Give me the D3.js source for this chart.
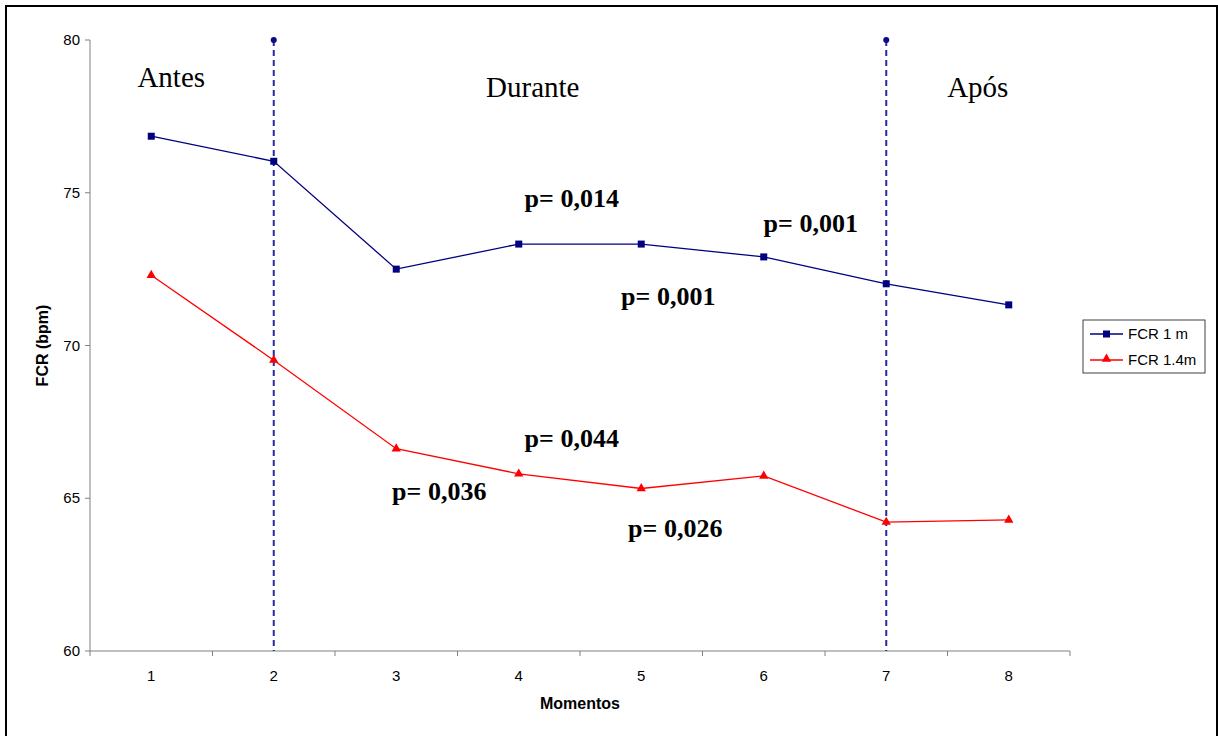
<!DOCTYPE html>
<html><head><meta charset="utf-8">
<script src="https://cdn.jsdelivr.net/npm/d3@7"></script>
<style>body{margin:0;background:#fff}svg{display:block}</style>
</head><body>
<svg id="c" width="1218" height="736"></svg>
<script>
const categories = ["1","2","3","4","5","6","7","8"];
const fcr1m = [76.85, 76.03, 72.5, 73.32, 73.32, 72.9, 72.02, 71.33];
const fcr14m = [72.3, 69.52, 66.62, 65.8, 65.32, 65.73, 64.22, 64.29];
const yTicks = [60, 65, 70, 75, 80];
const seriesNames = ["FCR 1 m", "FCR 1.4m"];
const phaseLabels = [{t:"Antes", x:"1", dx:20, y:78.46}, {t:"Durante", x:"4", dx:14, y:78.13}, {t:"Após", x:"8", dx:-31, y:78.13}];
const phaseLines = ["2", "7"];
const pLabels = [
  {t:"p= 0,014", x:"4", dx:53, y:74.53},
  {t:"p= 0,001", x:"6", dx:47, y:73.72},
  {t:"p= 0,001", x:"5", dx:27, y:71.33},
  {t:"p= 0,044", x:"4", dx:53, y:66.68},
  {t:"p= 0,036", x:"3", dx:43, y:64.94},
  {t:"p= 0,026", x:"5", dx:34, y:63.73}
];

const svg = d3.select("#c");
const L = 90, R = 1070, T = 40, B = 651;
const x = d3.scaleBand().domain(categories).range([L, R]).padding(0);
const y = d3.scaleLinear().domain([60, 80]).range([B, T]);
const cx = c => x(c) + x.bandwidth() / 2;

// outer border
svg.append("rect").attr("x", 6).attr("y", 6).attr("width", 1211).attr("height", 740)
  .attr("fill", "none").attr("stroke", "#000").attr("stroke-width", 2);

// axes
const axisColor = "#808080";
svg.append("line").attr("x1", L).attr("x2", L).attr("y1", T).attr("y2", B).attr("stroke", axisColor);
svg.append("line").attr("x1", L).attr("x2", R).attr("y1", B).attr("y2", B).attr("stroke", axisColor);
yTicks.forEach(v => {
  svg.append("line").attr("x1", L - 5).attr("x2", L).attr("y1", y(v)).attr("y2", y(v)).attr("stroke", axisColor);
  svg.append("text").attr("x", L - 10).attr("y", y(v) + 5).attr("text-anchor", "end")
    .attr("font-family", "Liberation Sans, Arial").attr("font-size", 15).text(v);
});
categories.forEach((c, i) => {
  svg.append("line").attr("x1", x(c)).attr("x2", x(c)).attr("y1", B).attr("y2", B + 5).attr("stroke", axisColor);
  svg.append("text").attr("x", cx(c)).attr("y", B + 30).attr("text-anchor", "middle")
    .attr("font-family", "Liberation Sans, Arial").attr("font-size", 15).text(c);
});
svg.append("line").attr("x1", R).attr("x2", R).attr("y1", B).attr("y2", B + 5).attr("stroke", axisColor);

svg.append("text").attr("x", (L + R) / 2).attr("y", 709).attr("text-anchor", "middle")
  .attr("font-family", "Liberation Sans, Arial").attr("font-weight", "bold").attr("font-size", 16).text("Momentos");
svg.append("text").attr("transform", `translate(48,${(T + B) / 2}) rotate(-90)`).attr("text-anchor", "middle")
  .attr("font-family", "Liberation Sans, Arial").attr("font-weight", "bold").attr("font-size", 16).text("FCR (bpm)");

// phase lines
phaseLines.forEach(c => {
  svg.append("line").attr("x1", cx(c)).attr("x2", cx(c)).attr("y1", y(80)).attr("y2", B)
    .attr("stroke", "#2a2aa0").attr("stroke-width", 2).attr("stroke-dasharray", "6,4");
  svg.append("circle").attr("cx", cx(c)).attr("cy", y(80)).attr("r", 3).attr("fill", "#0a0a8a");
});

// series
const line = d3.line().x((d, i) => cx(categories[i])).y(d => y(d));
svg.append("path").datum(fcr1m).attr("d", line).attr("fill", "none").attr("stroke", "#000080").attr("stroke-width", 1.3);
svg.append("path").datum(fcr14m).attr("d", line).attr("fill", "none").attr("stroke", "#ff0000").attr("stroke-width", 1.3);
svg.selectAll(".sq").data(fcr1m).join("rect").attr("x", (d, i) => cx(categories[i]) - 3.5).attr("y", d => y(d) - 3.5)
  .attr("width", 7).attr("height", 7).attr("fill", "#000080");
const tri = d3.symbol().type(d3.symbolTriangle).size(38);
svg.selectAll(".tr").data(fcr14m).join("path").attr("d", tri)
  .attr("transform", (d, i) => `translate(${cx(categories[i])},${y(d)})`).attr("fill", "#ff0000");

// phase labels
phaseLabels.forEach(p => {
  svg.append("text").attr("x", cx(p.x) + p.dx).attr("y", y(p.y)).attr("text-anchor", "middle")
    .attr("font-family", "Liberation Serif, Times New Roman").attr("font-size", 29).text(p.t);
});
pLabels.forEach(p => {
  svg.append("text").attr("x", cx(p.x) + p.dx).attr("y", y(p.y)).attr("text-anchor", "middle")
    .attr("font-family", "Liberation Serif, Times New Roman").attr("font-weight", "bold").attr("font-size", 26).text(p.t);
});

// legend
const lg = svg.append("g");
lg.append("rect").attr("x", 1083).attr("y", 320).attr("width", 122).attr("height", 53)
  .attr("fill", "#fff").attr("stroke", "#404040");
[["#000080", "sq"], ["#ff0000", "tr"]].forEach((s, i) => {
  const yy = 334 + i * 26;
  lg.append("line").attr("x1", 1090).attr("x2", 1123).attr("y1", yy).attr("y2", yy).attr("stroke", s[0]).attr("stroke-width", 1.3);
  if (s[1] === "sq") lg.append("rect").attr("x", 1103).attr("y", yy - 3.5).attr("width", 7).attr("height", 7).attr("fill", s[0]);
  else lg.append("path").attr("d", tri).attr("transform", `translate(1106.5,${yy - 1})`).attr("fill", s[0]);
  lg.append("text").attr("x", 1128).attr("y", yy + 5).attr("font-family", "Liberation Sans, Arial").attr("font-size", 15).text(seriesNames[i]);
});
</script>
</body></html>
